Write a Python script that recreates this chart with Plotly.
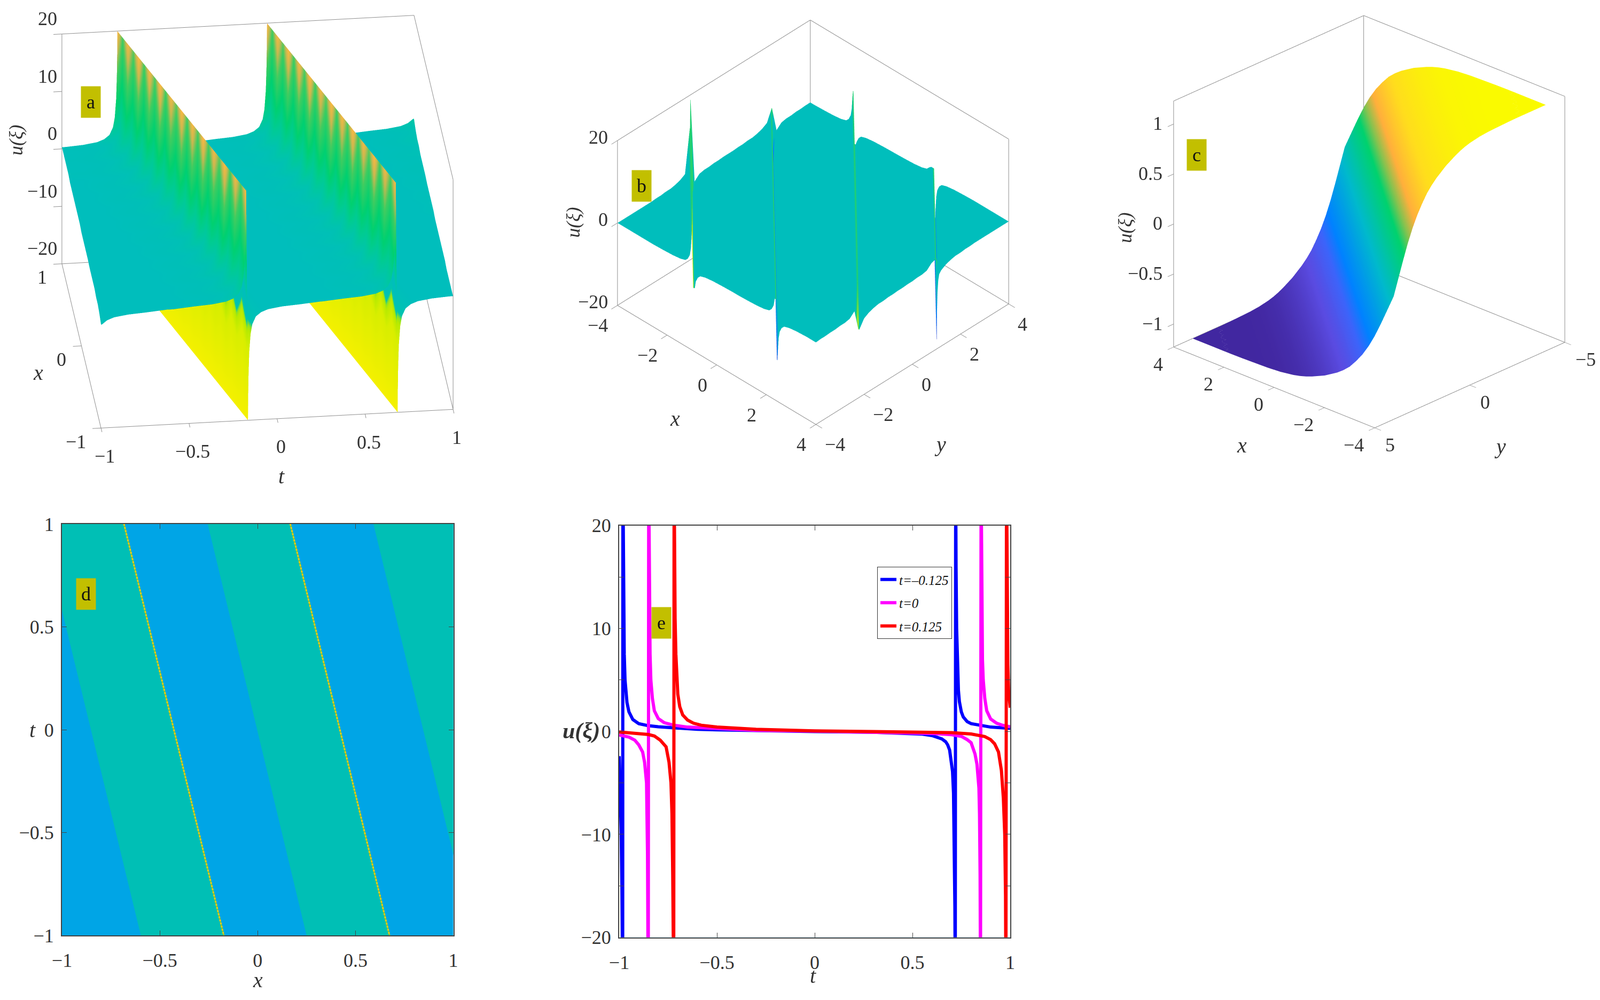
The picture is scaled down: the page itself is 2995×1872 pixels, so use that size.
import numpy as np
import plotly.graph_objects as go

W, H = 2995, 1872
PAGE_MARGIN = 8  # the browser's default body margin around the plot div
SERIF = "Liberation Serif"
INK = "#333333"
FRAME = "#8f8f8f"
BADGE = "#c2bf00"

# panel a: profile around a pole, u against distance along t
a_poles = [-1.3, -0.425, 0.425, 1.3]
a_offset = [-0.42, -0.3, -0.2, -0.12, -0.08, -0.05, -0.03, -0.02, -0.012, -0.008, -0.006, -0.005,
            0.005, 0.006, 0.008, 0.012, 0.02, 0.03, 0.05, 0.08, 0.12, 0.2, 0.3, 0.42]
a_u = [0.0, 0.3, 0.5, 0.85, 1.3, 2.0, 3.3, 5.0, 8.3, 12.5, 16.7, 20.0,
       -20.0, -16.7, -12.5, -8.3, -5.0, -3.3, -2.0, -1.3, -0.85, -0.5, -0.3, 0.0]
a_row_gain = [1.0, 0.62, 0.95, 0.6, 1.0, 0.64, 0.96, 0.6, 1.0, 0.62, 0.98, 0.6, 1.0,
              0.64, 0.95, 0.6, 1.0, 0.62, 0.97, 0.6, 1.0, 0.64, 0.96, 0.6, 1.0]
a_levels = [-20, -8, -5, -4.2, -3.4, -1, 0, 1.5, 4, 7, 12, 16, 20]
a_colors = ["#f4f000", "#d8ee00", "#b8ea00", "#90e420", "#00c4b0", "#00bebc", "#00bebc", "#00c4ac",
            "#00cc90", "#00d070", "#40cc60", "#c8b850", "#ffb840"]
a_t_ticks = [-1, -0.5, 0, 0.5, 1]
a_x_ticks = [-1, 0, 1]
a_z_ticks = [-20, -10, 0, 10, 20]

# panel b: four poles along x+y, each with its own visible spike height
b_poles = [-8.26, -4.96, -1.58, 1.75, 5.0, 8.3]
b_up = [0, 19, 4.5, 9, 2, 0]
b_down = [0, -4.7, -10, -3.6, -19, 0]
b_tint = [1, 1, -1, 1, -1, 1]
b_offset = [-1.6, -1.2, -0.8, -0.5, -0.3, -0.2, -0.12, -0.08, -0.05, -0.03, -0.02, -0.01,
            0.01, 0.02, 0.03, 0.05, 0.08, 0.12, 0.2, 0.3, 0.5, 0.8, 1.2, 1.6]
b_u = [0.0, 0.1, 0.25, 0.5, 0.9, 1.6, 2.8, 4.5, 7.5, 12.0, 20.0, 20.0,
       -20.0, -20.0, -12.0, -7.5, -4.5, -2.8, -1.6, -0.9, -0.5, -0.25, -0.1, 0.0]
b_levels = [-20, -12, -5, 0, 5, 10, 20]
b_colors = ["#2a3fd0", "#0080ff", "#00bebc", "#00bebc", "#00bebc", "#20d070", "#f0f000"]
b_xy_ticks = [-4, -2, 0, 2, 4]
b_z_ticks = [-20, 0, 20]

# panel c: kink against x+y, read at steps of 0.25 for x+y = 0..8
c_step_u = [0.0, 0.16, 0.32, 0.47, 0.60, 0.71, 0.80, 0.88, 0.94, 0.99, 1.03, 1.07, 1.10, 1.13,
            1.155, 1.175, 1.19, 1.20, 1.21, 1.215, 1.22, 1.222, 1.224, 1.226, 1.228, 1.229,
            1.23, 1.23, 1.23, 1.23, 1.23, 1.23, 1.23]
c_levels = [-1.23, -0.95, -0.72, -0.55, -0.1, 0.35, 0.5, 0.65, 0.9, 1.23]
c_colors = ["#4127a0", "#5a4be1", "#3c64fa", "#0082ff", "#00b9cd", "#00d26e", "#82c350",
            "#ffaf3c", "#ffdc1e", "#fafa00"]
c_x_ticks = [-4, -2, 0, 2, 4]
c_y_ticks = [-5, 0, 5]
c_z_ticks = [-1, -0.5, 0, 0.5, 1]

# panel d: band edges at t=1 and t=-1
d_t_ends = [1, -1]
d_band_top = [(-1.107, -0.683), (-0.255, 0.167), (0.592, 1.02)]
d_band_bottom = [(-0.597, -0.173), (0.25, 0.674), (1.10, 1.52)]
d_pole_x = [(-0.683, -0.173), (0.167, 0.674)]

# panel e
blue_t = [-1, -0.997, -0.993, -0.99, -0.986, -0.982, -0.981, -0.979, -0.977, -0.974, -0.97, -0.965,
          -0.96, -0.95, -0.93, -0.9, -0.85, -0.8, -0.7, -0.6, -0.5, -0.3, 0, 0.3, 0.45, 0.5, 0.55,
          0.6, 0.63, 0.65, 0.67, 0.68, 0.69, 0.70, 0.705, 0.71, 0.714, 0.717, 0.719, 0.721, 0.723,
          0.726, 0.73, 0.735, 0.74, 0.75, 0.76, 0.78, 0.8, 0.85, 0.9, 1]
blue_u = [-2.4, -4.0, -6.5, -9.5, -15, -25, 25, 16, 11, 7.5, 5.0, 3.6, 2.8, 1.9, 1.15, 0.75, 0.55,
          0.45, 0.3, 0.2, 0.15, 0.06, -0.02, -0.08, -0.16, -0.2, -0.26, -0.4, -0.55, -0.72, -1.0,
          -1.3, -1.8, -2.9, -3.9, -6, -10, -17, -25, 25, 16, 10, 6.7, 4.0, 2.9, 1.9, 1.4, 0.95,
          0.75, 0.55, 0.42, 0.3]
magenta_t = [-1, -0.95, -0.92, -0.9, -0.88, -0.87, -0.86, -0.858, -0.855, -0.853, -0.851, -0.849,
             -0.847, -0.845, -0.842, -0.838, -0.83, -0.82, -0.8, -0.77, -0.72, -0.65, -0.5, -0.3,
             0, 0.3, 0.5, 0.6, 0.7, 0.75, 0.78, 0.8, 0.82, 0.83, 0.84, 0.843, 0.846, 0.848, 0.851,
             0.853, 0.855, 0.858, 0.862, 0.87, 0.88, 0.9, 0.93, 0.96, 1]
magenta_u = [-0.35, -0.55, -0.85, -1.3, -2.0, -3.0, -5.0, -7.5, -12, -20, -25, 25, 20, 12, 7.5, 5.0,
             3.2, 2.0, 1.25, 0.85, 0.6, 0.42, 0.25, 0.1, 0.02, -0.06, -0.12, -0.2, -0.32, -0.48,
             -0.8, -1.1, -2.2, -3.2, -5.5, -8, -14, -25, 25, 18, 11, 7, 5, 3.2, 2.0, 1.2, 0.8,
             0.6, 0.45]
red_t = [-1, -0.9, -0.85, -0.82, -0.79, -0.76, -0.745, -0.735, -0.73, -0.726, -0.723, -0.721, -0.719,
         -0.717, -0.714, -0.71, -0.705, -0.7, -0.69, -0.675, -0.65, -0.62, -0.58, -0.5, -0.3, 0, 0.3,
         0.5, 0.7, 0.8, 0.87, 0.9, 0.92, 0.94, 0.955, 0.965, 0.972, 0.976, 0.978, 0.981, 0.983,
         0.985, 0.988, 0.992, 1]
red_u = [-0.05, -0.18, -0.3, -0.45, -0.85, -1.5, -3.0, -5.0, -8.0, -14, -20, -25, 25, 16, 11, 7.5,
         5.0, 3.6, 2.4, 1.6, 1.1, 0.8, 0.6, 0.42, 0.2, 0.05, -0.02, -0.06, -0.12, -0.25, -0.5,
         -0.8, -1.2, -2.0, -3.8, -6.5, -10, -16, -25, 25, 16, 11, 6.5, 3.8, 2.3]
e_names = ["<i>t=–0.125</i>", "<i>t=0</i>", "<i>t=0.125</i>"]
e_x_ticks = [-1, -0.5, 0, 0.5, 1]
e_y_ticks = [-20, -15, -10, -5, 0, 5, 10, 15, 20]
e_y_text = ["−20", "", "−10", "", "0", "", "10", "", "20"]

FIG_W = W - 2 * PAGE_MARGIN
FIG_H = H - 2 * PAGE_MARGIN


def px(x):
    return (x - PAGE_MARGIN) / FIG_W


def py(y):
    return 1 - (y - PAGE_MARGIN) / FIG_H


def label(v):
    return f"{v:g}".replace("-", "−")


def scale(levels, colors):
    low, high = levels[0], levels[-1]
    return [[(v - low) / (high - low), c] for v, c in zip(levels, colors)]


def sheared(xi, u, rows, slope, low, high):
    # rows run along the wave front, so the pole stays on one grid column
    x = xi[None, :] - slope * rows[:, None]
    y = np.repeat(rows[:, None], len(xi), axis=1)
    z = np.repeat(u[None, :], len(rows), axis=0)
    for i in range(len(rows)):
        inside = np.where((x[i] >= low) & (x[i] <= high))[0]
        z[i, :inside[0]] = z[i, inside[0]]
        z[i, inside[-1] + 1:] = z[i, inside[-1]]
    return np.clip(x, low, high), y, z


def frame(ranges, edges, name):
    # edges are pairs of corners given as 0/1 for low/high end of each axis
    xs, ys, zs = [], [], []
    for a, b in edges:
        for corner in (a, b):
            xs.append(ranges[0][corner[0]])
            ys.append(ranges[1][corner[1]])
            zs.append(ranges[2][corner[2]])
        xs.append(None), ys.append(None), zs.append(None)
    return go.Scatter3d(x=xs, y=ys, z=zs, mode="lines", line=dict(color=FRAME, width=2),
                        hoverinfo="skip", showlegend=False, scene=name)


def axis3d(rng, ticks):
    return dict(range=rng, tickvals=ticks, showticklabels=False, title=dict(text=""), showgrid=False,
                zeroline=False, showbackground=False, showline=False, showspikes=False,
                ticks="outside", ticklen=16, tickcolor=FRAME, tickwidth=2)


def tick_notes(points, anchor, dx, dy):
    return [dict(x=p[0], y=p[1], z=p[2], text=label(p[3]), showarrow=False, xanchor=anchor, yanchor="middle",
                 xshift=dx, yshift=dy, font=dict(family=SERIF, size=36, color=INK)) for p in points]


def scene(cx, cy, size, eye, aspect, xa, ya, za, notes):
    return dict(
        domain=dict(x=[px(cx - size / 2), px(cx + size / 2)], y=[py(cy + size / 2), py(cy - size / 2)]),
        xaxis=xa, yaxis=ya, zaxis=za, annotations=notes,
        aspectmode="manual", aspectratio=dict(x=aspect[0], y=aspect[1], z=aspect[2]),
        camera=dict(eye=dict(x=eye[0], y=eye[1], z=eye[2]), up=dict(x=0, y=0, z=1),
                    center=dict(x=0, y=0, z=0), projection=dict(type="orthographic")),
        bgcolor="rgba(0,0,0,0)",
    )


FLAT = dict(ambient=1, diffuse=0, specular=0, roughness=1, fresnel=0)
fig = go.Figure()

# a
a_xi = np.concatenate([p + np.array(a_offset) for p in a_poles])
a_val = np.concatenate([np.array(a_u)] * len(a_poles))
a_rows = np.linspace(-1, 1, len(a_row_gain))
ax, ay, az = sheared(a_xi, a_val, a_rows, 0.255, -1, 1)
a_gain = np.where(az > 0, np.array(a_row_gain)[:, None], 1.0)
fig.add_trace(go.Surface(x=ax, y=ay, z=az, surfacecolor=az * a_gain, cmin=-20, cmax=20,
                         colorscale=scale(a_levels, a_colors), showscale=False, lighting=FLAT,
                         scene="scene"))
a_range = [[-1, 1], [-1, 1], [-20, 20]]
fig.add_trace(frame(a_range, [
    ((0, 1, 1), (1, 1, 1)), ((0, 1, 0), (0, 1, 1)), ((1, 1, 1), (1, 0, 1)), ((1, 0, 1), (1, 0, 0)),
    ((0, 0, 0), (1, 0, 0)), ((0, 0, 0), (0, 1, 0)), ((1, 0, 0), (1, 1, 0)), ((0, 1, 0), (1, 1, 0)),
], "scene"))

# b: rising walls stay green, falling walls follow the pole's tint
b_xi = np.concatenate([p + np.array(b_offset) for p in b_poles])
b_val = np.concatenate([np.clip(b_u, d, u) for d, u in zip(b_down, b_up)])
b_col = np.concatenate([np.where(np.array(b_u) > 0, np.minimum(b_u, 10), t * np.abs(b_u)) for t in b_tint])
b_rows = np.linspace(-4, 4, 41)
bx, by, bz = sheared(b_xi, b_val, b_rows, 1.0, -4, 4)
_, _, bc = sheared(b_xi, b_col, b_rows, 1.0, -4, 4)
fig.add_trace(go.Surface(x=bx, y=by, z=bz, surfacecolor=bc, cmin=-20, cmax=20,
                         colorscale=scale(b_levels, b_colors), showscale=False, lighting=FLAT,
                         scene="scene2"))
b_range = [[-4, 4], [-4, 4], [-20, 20]]
fig.add_trace(frame(b_range, [
    ((0, 1, 1), (1, 1, 1)), ((0, 1, 1), (0, 0, 1)), ((1, 1, 1), (1, 1, 0)), ((0, 0, 1), (0, 0, 0)),
    ((0, 1, 1), (0, 1, 0)), ((0, 0, 0), (1, 0, 0)), ((1, 0, 0), (1, 1, 0)), ((0, 0, 0), (0, 1, 0)),
    ((0, 1, 0), (1, 1, 0)),
], "scene2"))

# c
c_u_full = np.array([-v for v in c_step_u])
c_val = np.concatenate([-c_u_full[:0:-1], c_u_full])
c_grid = np.arange(-4, 4.01, 0.25)
c_z = [[c_val[int(round((xv + yv + 8) * 4))] for xv in c_grid] for yv in c_grid]
fig.add_trace(go.Surface(x=c_grid, y=c_grid, z=c_z, cmin=-1.23, cmax=1.23,
                         colorscale=scale(c_levels, c_colors), showscale=False, lighting=FLAT,
                         scene="scene3"))
c_range = [[-4, 4], [-5, 5], [-1.23, 1.23]]
fig.add_trace(frame(c_range, [
    ((1, 0, 1), (1, 1, 1)), ((1, 0, 1), (0, 0, 1)), ((1, 1, 1), (1, 1, 0)), ((0, 0, 1), (0, 0, 0)),
    ((1, 0, 1), (1, 0, 0)), ((1, 1, 0), (0, 1, 0)), ((0, 1, 0), (0, 0, 0)), ((1, 1, 0), (1, 0, 0)),
    ((1, 0, 0), (0, 0, 0)),
], "scene3"))

fig.update_layout(
    scene=scene(482, 414.6, 800, (-0.295, -2.626, 1.416), (1.658, 1.638, 1.22),
                axis3d([-1, 1], a_t_ticks), axis3d([-1, 1], a_x_ticks), axis3d([-20, 20], a_z_ticks),
                tick_notes([(-1, 1, v, v) for v in a_z_ticks], "right", -7, 28)
                + tick_notes([(v, -1, -20, v) for v in a_t_ticks], "center", 7, -53)
                + tick_notes([(-1, v, -20, v) for v in a_x_ticks], "right", -26, -26)),
    scene2=scene(1522, 415.8, 800, (1.659, -1.693, 1.8375), (1.30, 1.289, 0.976),
                 axis3d([-4, 4], b_xy_ticks), axis3d([-4, 4], b_xy_ticks), axis3d([-20, 20], b_z_ticks),
                 tick_notes([(-4, -4, v, v) for v in b_z_ticks], "right", -16, 6)
                 + tick_notes([(v, -4, -20, v) for v in b_xy_ticks], "right", -16, -38)
                 + tick_notes([(4, v, -20, v) for v in b_xy_ticks], "left", 15, -38)),
    scene3=scene(2563, 415, 800, (-1.866, 1.974, 1.276), (1.295, 1.295, 1.272),
                 axis3d([-4, 4], c_x_ticks), axis3d([-5, 5], c_y_ticks), axis3d([-1.23, 1.23], c_z_ticks),
                 tick_notes([(4, 5, v, v) for v in c_z_ticks], "right", -19, 1)
                 + tick_notes([(v, 5, -1.23, v) for v in c_x_ticks], "right", -18, -32)
                 + tick_notes([(-4, v, -1.23, v) for v in c_y_ticks], "left", 18, -32)),
)

# d
for top, bottom in zip(d_band_top, d_band_bottom):
    fig.add_trace(go.Scatter(x=[top[0], top[1], bottom[1], bottom[0], top[0]],
                             y=[d_t_ends[0], d_t_ends[0], d_t_ends[1], d_t_ends[1], d_t_ends[0]],
                             mode="lines", line=dict(width=0), fill="toself", fillcolor="#00bfb5",
                             hoverinfo="skip", showlegend=False, xaxis="x", yaxis="y"))
for ends in d_pole_x:
    fig.add_trace(go.Scatter(x=list(ends), y=d_t_ends, mode="lines", line=dict(color="#7fc83c", width=3),
                             hoverinfo="skip", showlegend=False, xaxis="x", yaxis="y"))
    fig.add_trace(go.Scatter(x=list(ends), y=d_t_ends, mode="lines",
                             line=dict(color="#f5c814", width=3, dash="3px,3px"),
                             hoverinfo="skip", showlegend=False, xaxis="x", yaxis="y"))

# e
for name, ts, us, color in zip(e_names, [blue_t, magenta_t, red_t], [blue_u, magenta_u, red_u],
                               ["#0000ff", "#ff00ff", "#ff0000"]):
    fig.add_trace(go.Scatter(x=ts, y=us, name=name, legendgroup=name, mode="lines",
                             line=dict(color=color, width=6), xaxis="x2", yaxis="y2"))


def plain_axis(domain, anchor, ticks, text, standoff):
    return dict(domain=domain, anchor=anchor, range=[ticks[0], ticks[-1]], tickvals=ticks, ticktext=text,
                showgrid=False, zeroline=False, showline=True, linecolor="#444444", linewidth=2,
                mirror="ticks", ticks="inside", ticklen=9, tickcolor="#444444", tickwidth=1,
                ticklabelstandoff=standoff, tickfont=dict(family=SERIF, size=36, color=INK))


e_x_text = [label(v) for v in e_x_ticks]
fig.update_layout(
    width=FIG_W, height=FIG_H, margin=dict(l=0, r=0, t=0, b=0, autoexpand=False), paper_bgcolor="white",
    plot_bgcolor="#00a5e6",
    xaxis=plain_axis([px(116), px(848.5)], "y", e_x_ticks, e_x_text, 14),
    yaxis=plain_axis([py(1751), py(981)], "x", e_x_ticks, e_x_text, 6),
    xaxis2=plain_axis([px(1159), px(1891)], "y2", e_x_ticks, e_x_text, 14),
    yaxis2=plain_axis([py(1754.7), py(983.7)], "x2", e_y_ticks, e_y_text, 6),
    legend=dict(x=px(1642), y=py(1061), xanchor="left", yanchor="top", bgcolor="white", bordercolor="#333333",
                borderwidth=1, itemwidth=30, tracegroupgap=8, font=dict(family=SERIF, size=25, color="#111111")),
    showlegend=True,
)

# panel e keeps a white plot area on top of the shared blue background
fig.add_shape(type="rect", xref="x2 domain", yref="y2 domain", x0=0, x1=1, y0=0, y1=1,
              fillcolor="white", line=dict(width=0), layer="below")


def note(x, y, text, size=40, angle=0):
    fig.add_annotation(xref="paper", yref="paper", x=px(x), y=py(y), text=text, showarrow=False,
                       xanchor="center", yanchor="middle", textangle=angle,
                       font=dict(family=SERIF, size=size, color=INK))


for x, y, text in [(527, 891, "<i>t</i>"), (71, 698, "<i>x</i>"),
                   (1263, 783, "<i>x</i>"), (1760, 831, "<i>y</i>"),
                   (2324, 833, "<i>x</i>"), (2808, 836, "<i>y</i>"),
                   (482, 1834, "<i>x</i>"), (61, 1366, "<i>t</i>"), (1522, 1826, "<i>t</i>")]:
    note(x, y, text)
for x, y in [(30, 263), (1073, 417), (2106, 427)]:
    note(x, y, "<i>u(ξ)</i>", 36, -90)
note(1088, 1368, "<b><i>u(ξ)</i></b>", 42)

for cx, cy, letter in [(169.5, 190.5, "a"), (1200.5, 348.5, "b"), (2240, 290.5, "c"),
                       (161, 1111.5, "d"), (1238, 1166, "e")]:
    fig.add_annotation(xref="paper", yref="paper", x=px(cx), y=py(cy), text=letter,
                       showarrow=False, xanchor="center", yanchor="middle", width=36, height=58,
                       bgcolor=BADGE, borderpad=0, align="center", valign="middle",
                       font=dict(family=SERIF, size=36, color="#111111"))

fig.write_html("out.html")
